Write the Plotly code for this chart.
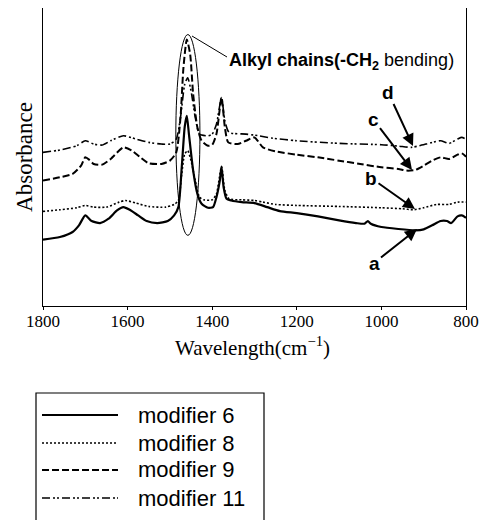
import plotly.graph_objects as go

# wavenumbers (cm^-1) and absorbance (arbitrary units) for each modifier
wn_a = [1800,1760,1730,1715,1700,1685,1665,1645,1625,1610,1595,1575,1555,1530,1505,1490,1480,1472,1465,1460,1455,1445,1435,1425,1410,1398,1390,1382,1378,1373,1366,1355,1330,1300,1270,1240,1200,1150,1100,1060,1040,1032,1025,1000,960,920,900,880,860,845,835,820,810,800]
abs_a = [200,208,223,243,273,256,250,263,288,298,290,273,256,250,256,273,298,418,540,573,518,408,338,308,296,298,328,378,420,358,323,318,313,310,298,286,280,270,258,250,248,256,248,238,232,228,231,243,256,256,250,270,273,266]

wn_b = [1800,1760,1720,1700,1680,1650,1620,1605,1580,1550,1510,1490,1480,1472,1465,1458,1450,1440,1430,1420,1400,1390,1378,1370,1360,1330,1300,1280,1250,1200,1100,1000,950,925,900,870,840,820,800]
abs_b = [285,290,296,303,298,298,313,318,310,300,298,306,318,398,458,468,438,378,328,320,320,338,420,348,323,320,318,313,306,303,300,296,293,290,296,306,306,313,313]

wn_c = [1800,1760,1730,1710,1700,1690,1680,1660,1640,1610,1590,1570,1550,1520,1500,1485,1475,1468,1460,1452,1445,1435,1425,1410,1400,1390,1378,1370,1362,1340,1320,1300,1280,1250,1200,1150,1100,1050,1000,960,940,920,900,880,860,840,820,810,800]
abs_c = [378,388,398,423,448,440,428,426,443,478,468,448,430,428,438,463,568,718,803,758,638,538,498,483,486,518,628,538,493,488,498,508,478,466,456,448,438,428,418,413,408,410,423,438,448,443,456,460,450]

wn_d = [1800,1760,1720,1700,1680,1660,1640,1610,1580,1550,1520,1500,1485,1475,1465,1458,1450,1440,1430,1410,1400,1390,1378,1370,1360,1320,1290,1260,1200,1100,1000,960,930,910,880,860,840,820,810,800]
abs_d = [463,470,483,498,488,485,498,513,503,493,488,488,503,568,668,688,648,568,518,513,518,548,628,558,523,518,513,506,498,490,486,482,478,483,493,498,490,503,508,503]

legend_names = ["modifier 6", "modifier 8", "modifier 9", "modifier 11"]
curve_labels = ["a", "b", "c", "d"]
x_ticks = [1800, 1600, 1400, 1200, 1000, 800]

series = [(wn_a, abs_a), (wn_b, abs_b), (wn_c, abs_c), (wn_d, abs_d)]
dashes = ["solid", "2px,2px", "7px,3px", "8px,3px,2px,2px,2px,3px"]
widths = [2.2, 1.6, 2.0, 1.6]

fig = go.Figure()
for (xs, ys), name, dsh, w in zip(series, legend_names, dashes, widths):
    fig.add_trace(go.Scatter(x=xs, y=ys, mode="lines", name=name,
                             line=dict(color="black", width=w, dash=dsh,
                                       shape="spline", smoothing=0.6),
                             showlegend=False))

# page offset of 8px (default body margin) is compensated
OFF = 8
W, H = 488 - OFF, 520 - OFF
L, R, T, B = 43, 466, 8, 306   # page coordinates of plot area
def px(x):
    return (x - L) / (R - L)
def py(y):
    return (B - y) / (B - T)

shapes = []
shapes.append(dict(type="circle", xref="x", yref="y", x0=1486, x1=1429, y0=213, y1=818,
                   line=dict(color="black", width=1)))
shapes.append(dict(type="line", xref="paper", yref="paper", x0=px(192), y0=py(36),
                   x1=px(227), y1=py(57), line=dict(color="black", width=1)))

annotations = []
annotations.append(dict(xref="paper", yref="paper", x=px(227), y=py(62), xanchor="left",
                        yanchor="middle", showarrow=False,
                        text="<b>Alkyl chains(-CH</b><sub><b>2</b></sub> bending)",
                        font=dict(family="Liberation Sans, Arial", size=18, color="black")))

label_pos = {"d": (413, 146, 388, 92), "c": (412, 170, 373, 119),
             "b": (415, 209, 371, 178), "a": (417, 229, 374, 263)}
for lab in curve_labels:
    tx, ty, lx, ly = label_pos[lab]
    annotations.append(dict(xref="paper", yref="paper", x=px(tx), y=py(ty),
                            ax=lx - tx, ay=ly - ty, text="<b>%s</b>" % lab,
                            showarrow=True, arrowhead=2, arrowsize=1.2, arrowwidth=2,
                            arrowcolor="black",
                            font=dict(family="Liberation Sans, Arial", size=19, color="black")))

# x-axis title
annotations.append(dict(xref="paper", yref="paper", x=px(252), y=py(346), xanchor="center",
                        yanchor="middle", showarrow=False,
                        text="Wavelength(cm<sup>−1</sup>)",
                        font=dict(family="Liberation Serif, Times New Roman", size=21, color="black")))

shapes.append(dict(type="rect", xref="paper", yref="paper", x0=px(36), x1=px(264),
                   y0=py(393), y1=py(540), line=dict(color="black", width=1.2)))
leg_y = [415, 443, 470, 498]
for name, dsh, w, yy in zip(legend_names, dashes, widths, leg_y):
    shapes.append(dict(type="line", xref="paper", yref="paper", x0=px(42), x1=px(118),
                       y0=py(yy), y1=py(yy), line=dict(color="black", width=w, dash=dsh)))
    annotations.append(dict(xref="paper", yref="paper", x=px(136), y=py(yy), xanchor="left",
                            yanchor="middle", showarrow=False, text=name,
                            font=dict(family="Liberation Sans, Arial", size=22, color="black")))

fig.update_layout(
    width=W, height=H,
    margin=dict(l=L - OFF, r=W - (R - OFF), t=T - OFF, b=H - (B - OFF), pad=0),
    plot_bgcolor="white", paper_bgcolor="white",
    shapes=shapes, annotations=annotations,
    font=dict(family="Liberation Serif, Times New Roman", color="black"),
)
fig.update_xaxes(range=[1800, 800], tickvals=x_ticks, ticktext=[str(t) for t in x_ticks],
                 showgrid=False, zeroline=False, showline=True, linecolor="black",
                 linewidth=1.2, mirror=True, ticks="outside", ticklen=3, tickwidth=1,
                 tickcolor="black", tickfont=dict(size=17), ticklabelstandoff=-4)
fig.update_yaxes(range=[0, 898], showticklabels=False, showgrid=False, zeroline=False,
                 showline=True, linecolor="black", linewidth=1.2, mirror=True, ticks="",
                 title=dict(text="Absorbance", font=dict(size=23), standoff=2))

fig.write_html("out.html")
